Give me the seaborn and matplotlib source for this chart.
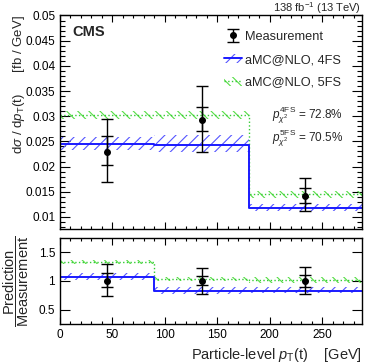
import matplotlib
matplotlib.use('Agg')
import matplotlib.pyplot as plt
import seaborn as sns
import numpy as np
from matplotlib.patches import Patch
from matplotlib.lines import Line2D
from matplotlib.ticker import MultipleLocator, FuncFormatter

# binning of the particle-level top pT distribution
bin_edges = [0, 90, 180, 288]
bin_centers = [45, 135, 234]

# measurement with inner (stat) and outer (total) uncertainties
meas = [0.0228, 0.0293, 0.0142]
meas_stat_lo = [0.0203, 0.0271, 0.0128]
meas_stat_hi = [0.0261, 0.0319, 0.0157]
meas_tot_lo = [0.0169, 0.0228, 0.0111]
meas_tot_hi = [0.0295, 0.0360, 0.0177]

# predictions
pred_4fs = [0.0245, 0.0243, 0.0117]
pred_4fs_lo = [0.0232, 0.0228, 0.0112]
pred_4fs_hi = [0.0259, 0.0262, 0.0126]

pred_5fs = [0.0302, 0.0302, 0.0145]
pred_5fs_lo = [0.0294, 0.0294, 0.0137]
pred_5fs_hi = [0.0310, 0.0311, 0.0152]

pvalue_labels = ['4FS', '5FS']
pvalues = [72.8, 70.5]

sns.set_style('ticks')
plt.rcParams['font.family'] = ['Liberation Sans', 'DejaVu Sans']
plt.rcParams['mathtext.fontset'] = 'custom'
plt.rcParams['mathtext.rm'] = 'Liberation Sans'
plt.rcParams['mathtext.it'] = 'Liberation Sans:italic'
plt.rcParams['mathtext.bf'] = 'Liberation Sans:bold'
plt.rcParams['hatch.linewidth'] = 0.8

BLUE = '#1a1aff'
BLUE_H = '#5555ff'
GREEN = '#33cc33'
GREEN_H = '#55dd44'


def ext(vals):
    return list(vals) + [vals[-1]]


def draw_pred(ax, c, lo, hi, col, hcol, hatch, ls, lw):
    ax.fill_between(bin_edges, ext(lo), ext(hi), step='post', facecolor='none',
                    edgecolor=hcol, hatch=hatch, linewidth=0)
    sns.lineplot(x=bin_edges, y=ext(c), drawstyle='steps-post', color=col,
                 linestyle=ls, linewidth=lw, estimator=None, ax=ax)


def draw_meas(ax, c, slo, shi, tlo, thi):
    c = np.array(c)
    outer = ax.errorbar(bin_centers, c, yerr=[c - np.array(tlo), np.array(thi) - c],
                        fmt='o', color='black', ms=4, lw=1, capsize=4.5, capthick=1, zorder=5)
    ax.errorbar(bin_centers, c, yerr=[c - np.array(slo), np.array(shi) - c],
                fmt='none', ecolor='black', lw=1, capsize=4.5, capthick=1, zorder=5)
    return outer


def style_axis(ax):
    for s in ax.spines.values():
        s.set_linewidth(1)
        s.set_color('black')
    ax.tick_params(which='both', direction='in', top=True, right=True, labelsize=8.5,
                   colors='black', width=0.8)
    ax.tick_params(axis='x', which='major', length=5)
    ax.tick_params(axis='x', which='minor', length=2.5)
    ax.tick_params(axis='y', which='major', length=7)
    ax.tick_params(axis='y', which='minor', length=3.5)
    ax.set_xlim(0, 288)
    ax.xaxis.set_major_locator(MultipleLocator(50))
    ax.xaxis.set_minor_locator(MultipleLocator(10))


fig = plt.figure(figsize=(3.74, 3.63), dpi=100)
ax1 = fig.add_axes([0.1604, 0.3678, 0.8075, 0.5909])
ax2 = fig.add_axes([0.1604, 0.1074, 0.8075, 0.2370])

# upper panel
draw_pred(ax1, pred_5fs, pred_5fs_lo, pred_5fs_hi, GREEN, GREEN_H, '\\\\\\', ':', 1.0)
draw_pred(ax1, pred_4fs, pred_4fs_lo, pred_4fs_hi, BLUE, BLUE_H, '///', '-', 1.4)
meas_handle = draw_meas(ax1, meas, meas_stat_lo, meas_stat_hi, meas_tot_lo, meas_tot_hi)

style_axis(ax1)
ax1.set_ylim(0.0075, 0.0501)
ax1.yaxis.set_major_locator(MultipleLocator(0.005))
ax1.yaxis.set_minor_locator(MultipleLocator(0.001))
ax1.yaxis.set_major_formatter(FuncFormatter(lambda v, p: '{:g}'.format(round(v, 4))))
ax1.tick_params(axis='x', labelbottom=False)
ax1.set_xlabel('')
ax1.set_ylabel(r'd$\sigma$ / d$p_{\mathrm{T}}$(t)      [fb / GeV]', fontsize=9.5, loc='top')
ax1.yaxis.set_label_coords(-0.108, 1.0)

h4 = (Patch(facecolor='none', edgecolor=BLUE_H, hatch='///', linewidth=0),
      Line2D([], [], color=BLUE, lw=1.4))
h5 = (Patch(facecolor='none', edgecolor=GREEN_H, hatch='\\\\\\', linewidth=0),
      Line2D([], [], color=GREEN, lw=1.0, ls=':'))
ax1.legend([meas_handle, h4, h5], ['Measurement', 'aMC@NLO, 4FS', 'aMC@NLO, 5FS'],
           loc='upper left', bbox_to_anchor=(0.525, 0.95), frameon=False,
           fontsize=9.2, handlelength=1.4, handletextpad=0.3, labelspacing=0.85,
           borderaxespad=0)

for i, (lab, pv) in enumerate(zip(pvalue_labels, pvalues)):
    ax1.text(0.937, 0.534 - i * 0.11,
             r'$p^{\mathrm{' + lab + r'}}_{\chi^{2}}$ = ' + '{:.1f}%'.format(pv),
             transform=ax1.transAxes, fontsize=8.5, va='center', ha='right')

ax1.text(0.04, 0.955, 'CMS', transform=ax1.transAxes, fontsize=10.5,
         fontweight='bold', va='top', ha='left')
fig.text(0.966, 0.968, r'138 fb$^{-1}$ (13 TeV)', fontsize=8, ha='right', va='baseline')

# ratio panel
m = np.array(meas)
draw_pred(ax2, list(np.array(pred_5fs) / m), list(np.array(pred_5fs_lo) / m),
          list(np.array(pred_5fs_hi) / m), GREEN, GREEN_H, '\\\\\\', ':', 1.0)
draw_pred(ax2, list(np.array(pred_4fs) / m), list(np.array(pred_4fs_lo) / m),
          list(np.array(pred_4fs_hi) / m), BLUE, BLUE_H, '///', '-', 1.4)
draw_meas(ax2, list(m / m), list(np.array(meas_stat_lo) / m), list(np.array(meas_stat_hi) / m),
          list(np.array(meas_tot_lo) / m), list(np.array(meas_tot_hi) / m))

style_axis(ax2)
ax2.set_ylim(0.25, 1.75)
ax2.set_yticks([0.5, 1.0, 1.5], ['0.5', '1', '1.5'])
ax2.set_xlabel(r'Particle-level $p_{\mathrm{T}}$(t)    [GeV]', fontsize=10.5, loc='right')
ax2.set_ylabel(r'$\dfrac{\mathrm{Prediction}}{\mathrm{Measurement}}$', fontsize=10.5)
ax2.yaxis.set_label_coords(-0.095, 0.5)

fig.savefig('out.png', dpi=100)
